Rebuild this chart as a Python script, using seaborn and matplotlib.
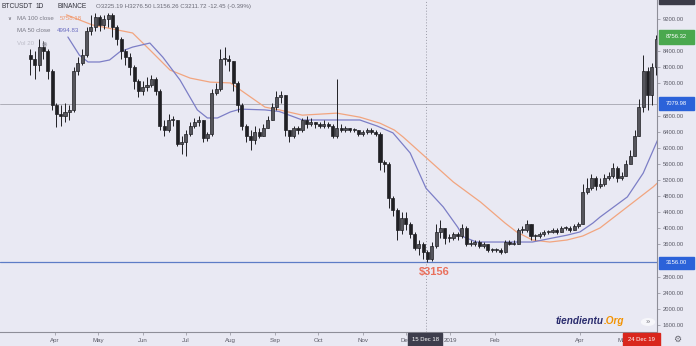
import matplotlib
matplotlib.use('Agg')
import matplotlib.pyplot as plt
import numpy as np
import pandas as pd
import seaborn as sns
from matplotlib.patches import Rectangle, Circle

# ---------------- data ----------------
ORIGIN = pd.Timestamp('2018-04-01')
candle_start = '2018-03-14'
candle_step_days = 3
first_open = 8300

closes = [8200, 8050, 8500, 8400, 7900, 7050, 6850, 6800, 6900, 6950,
          7900, 8100, 8300, 8900, 9000, 9250, 9050, 9200, 9300, 9000,
          8700, 8400, 8250, 8000, 7650, 7400, 7500, 7550, 7700, 7400,
          6550, 6450, 6700, 6700, 6100, 6150, 6350, 6550, 6650, 6700,
          6250, 6350, 7350, 7450, 8200, 8200, 8150, 7600, 7050, 6550,
          6300, 6200, 6400, 6300, 6500, 6700, 7000, 7250, 7300, 6450,
          6300, 6500, 6450, 6700, 6600, 6650, 6600, 6550, 6600, 6550,
          6300, 6500, 6450, 6500, 6450, 6450, 6350, 6400, 6450, 6400,
          6350, 5650, 5600, 4750, 4450, 3950, 4250, 4100, 3850, 3500,
          3600, 3400, 3250, 3550, 3900, 4000, 3750, 3750, 3850, 3800,
          4000, 3600, 3600, 3650, 3550, 3600, 3450, 3450, 3450, 3400,
          3650, 3620, 3620, 3950, 3950, 4100, 3800, 3800, 3850, 3900,
          3900, 3950, 3900, 4000, 4000, 3950, 4050, 4100, 4900, 5000,
          5250, 5050, 5100, 5250, 5300, 5500, 5250, 5300, 5600, 5800,
          6300, 7000, 7900, 7300, 8000, 8700]
highs = [8450, 8400, 8700, 8650, 8450, 7950, 7100, 7050, 7100, 7050,
         8000, 8250, 8450, 9000, 9300, 9350, 9300, 9300, 9350, 9350,
         9050, 8750, 8450, 8350, 8050, 7700, 7650, 7750, 7800, 7750,
         7450, 6700, 6850, 6800, 6700, 6300, 6450, 6650, 6750, 6800,
         6700, 6400, 7450, 7600, 8450, 8500, 8300, 8150, 7650, 7100,
         6600, 6450, 6550, 6500, 6600, 6800, 7100, 7400, 7400, 7300,
         6450, 6550, 6550, 6750, 6800, 6750, 6650, 6650, 6700, 6650,
         6600, 7700, 6600, 6550, 6500, 6500, 6450, 6450, 6500, 6500,
         6450, 6400, 5700, 5650, 4800, 4500, 4400, 4400, 4150, 3900,
         3700, 3650, 3450, 3650, 4100, 4200, 4000, 3850, 3900, 3900,
         4100, 4050, 3700, 3700, 3700, 3650, 3600, 3500, 3500, 3500,
         3700, 3700, 3700, 4000, 4050, 4200, 4100, 3850, 3900, 3950,
         3950, 4000, 4000, 4050, 4050, 4050, 4100, 4150, 5100, 5250,
         5350, 5300, 5250, 5350, 5400, 5620, 5550, 5400, 5700, 5950,
         6450, 7200, 8300, 8000, 8100, 8800]
lows = [7800, 7700, 7900, 8200, 7700, 6950, 6520, 6550, 6650, 6700,
        6900, 7800, 8050, 8250, 8800, 8900, 8900, 8950, 9000, 8750,
        8550, 8200, 8050, 7800, 7450, 7250, 7300, 7400, 7500, 7300,
        6450, 6300, 6400, 6550, 6050, 5850, 5800, 6300, 6500, 6550,
        6150, 6180, 6300, 7300, 7400, 8050, 7900, 7400, 6900, 6450,
        6150, 5950, 6100, 6250, 6300, 6500, 6700, 6950, 7100, 6300,
        6150, 6250, 6350, 6400, 6500, 6550, 6500, 6500, 6500, 6500,
        6250, 6250, 6400, 6400, 6400, 6400, 6300, 6300, 6350, 6350,
        6300, 5450, 5400, 4500, 4300, 3700, 3850, 3950, 3750, 3450,
        3350, 3250, 3160, 3200, 3500, 3750, 3600, 3650, 3700, 3700,
        3750, 3550, 3550, 3550, 3500, 3500, 3400, 3400, 3400, 3370,
        3380, 3580, 3580, 3600, 3880, 3900, 3700, 3700, 3750, 3800,
        3850, 3880, 3850, 3900, 3950, 3900, 3950, 4000, 4100, 4850,
        4950, 4950, 5000, 5050, 5200, 5250, 5150, 5200, 5300, 5650,
        5800, 6300, 6900, 6950, 7050, 7800]

ma50_dates = ['2018-04-10', '2018-04-18', '2018-04-24', '2018-05-02', '2018-05-09',
              '2018-05-16', '2018-05-25', '2018-06-06', '2018-06-15', '2018-06-27',
              '2018-07-09', '2018-07-16', '2018-07-23', '2018-08-01', '2018-08-08',
              '2018-08-25', '2018-09-04', '2018-09-20', '2018-10-07', '2018-10-30',
              '2018-11-11', '2018-11-22', '2018-12-04', '2018-12-15', '2018-12-27',
              '2019-01-06', '2019-01-10', '2019-01-19', '2019-02-07', '2019-02-27',
              '2019-03-13', '2019-03-23', '2019-04-01', '2019-04-10', '2019-04-15',
              '2019-05-04', '2019-05-15', '2019-05-25']
ma50_values = [8750, 8300, 8130, 8130, 8180, 8380, 8500, 8600, 8250, 7680,
               6940, 6740, 6740, 6890, 6960, 6940, 6900, 6690, 6690, 6690,
               6540, 6370, 5870, 4995, 4530, 4030, 3790, 3660, 3660, 3660,
               3760, 3830, 3910, 4130, 4280, 4780, 5370, 6190]

ma100_dates = ['2018-04-09', '2018-04-27', '2018-05-25', '2018-06-06', '2018-06-20',
               '2018-07-04', '2018-07-18', '2018-08-01', '2018-08-15', '2018-08-25',
               '2018-09-04', '2018-09-20', '2018-10-14', '2018-10-30', '2018-11-13',
               '2018-11-23', '2018-11-29', '2018-12-15', '2019-01-03', '2019-01-22',
               '2019-02-08', '2019-02-16', '2019-02-27', '2019-03-11', '2019-03-23',
               '2019-04-03', '2019-04-15', '2019-05-22', '2019-05-25']
ma100_values = [9300, 9050, 8850, 8430, 7930, 7730, 7630, 7610, 7260, 7010,
                6940, 6810, 6860, 6760, 6610, 6440, 6270, 5758, 5150, 4650,
                4130, 3910, 3710, 3660, 3710, 3810, 4010, 5030, 5130]

month_tick_dates = ['2018-04-01', '2018-05-01', '2018-06-01', '2018-07-01', '2018-08-01',
                    '2018-09-01', '2018-10-01', '2018-11-01', '2018-12-01', '2019-01-01',
                    '2019-02-01', '2019-04-01', '2019-05-01']
month_tick_labels = ['Apr', 'May', 'Jun', 'Jul', 'Aug', 'Sep', 'Oct', 'Nov', 'Dec', '2019',
                     'Feb', 'Apr', 'May']
# price ticks shown on the right axis (those hidden behind price boxes are omitted)
price_ticks = [1600, 2000, 2400, 2800, 3600, 4000, 4400, 4800, 5200,
               5600, 6000, 6400, 6800, 7600, 8000, 8400, 9200]

last_close = 8756.32
hline_level = 7079.98
support_level = 3156.00
cross_date = '2018-12-15'
legend_ohlc = 'O3225.19 H3276.50 L3156.26 C3211.72 -12.45 (-0.39%)'
ma100_legend = '5758.18'
ma50_legend = '4994.83'

# ---------------- style ----------------
BG = '#e9e9f3'
sns.set_theme(style='white', rc={'axes.facecolor': BG, 'figure.facecolor': BG})
plt.rcParams['font.family'] = ['Liberation Sans', 'DejaVu Sans']

W, H = 696, 346
fig = plt.figure(figsize=(W / 100, H / 100), dpi=100)


def fx(x):
    return x / W


def fy(y):
    return 1 - y / H


ax = fig.add_axes([0, (H - 332) / H, 657 / W, 332 / H])
ax.set_facecolor(BG)


def days(d):
    idx = pd.DatetimeIndex(pd.to_datetime(np.atleast_1d(d)))
    out = np.asarray((idx - ORIGIN).days, dtype=float)
    return out if np.ndim(d) else float(out[0])


# ---------------- moving averages ----------------
ma50_df = pd.DataFrame({'day': days(ma50_dates), 'value': ma50_values})
ma100_df = pd.DataFrame({'day': days(ma100_dates), 'value': ma100_values})
sns.lineplot(data=ma100_df, x='day', y='value', ax=ax, color='#f2a57f', lw=0.9, zorder=2)
sns.lineplot(data=ma50_df, x='day', y='value', ax=ax, color='#7c7ec6', lw=0.9, zorder=2)

# ---------------- reference lines ----------------
ax.axhline(hline_level, color='#a4a4ae', lw=0.6, zorder=1)
ax.axhline(support_level, color='#5d7cc6', lw=0.9, zorder=1)
cross_x = days(cross_date)
ax.axvline(cross_x, color='#9a9aa6', lw=0.7, ls=(0, (1, 2)), zorder=1)

# ---------------- candles ----------------
dates = pd.date_range(candle_start, periods=len(closes), freq=f'{candle_step_days}D')
xd = np.asarray((dates - ORIGIN).days, dtype=float) + 1.0
c = np.asarray(closes, float)
o = np.asarray([first_open] + closes[:-1], float)
hi = np.asarray(highs, float)
lo = np.asarray(lows, float)
up = c >= o
ax.vlines(xd, lo, hi, color='#202024', lw=0.7, zorder=3)
body_lo = np.minimum(o, c)
body_h = np.maximum(np.abs(c - o), 25)
ax.bar(xd[up], body_h[up], bottom=body_lo[up], width=2.1, color='#55555c',
       edgecolor='#202024', linewidth=0.5, zorder=4)
ax.bar(xd[~up], body_h[~up], bottom=body_lo[~up], width=2.1, color='#202024',
       edgecolor='#202024', linewidth=0.5, zorder=4)

# ---------------- axes ----------------
ax.set_xlim(-38.2, 418.6)
ax.set_ylim(1426, 9669)
ax.set_xlabel('')
ax.set_ylabel('')
ax.grid(False)
for s in ['left', 'top']:
    ax.spines[s].set_visible(False)
ax.spines['right'].set_color('#8e8e98')
ax.spines['bottom'].set_color('#8e8e98')
ax.spines['right'].set_linewidth(0.8)
ax.spines['bottom'].set_linewidth(0.8)
ax.yaxis.tick_right()
ax.set_yticks(price_ticks)
ax.set_yticklabels([f'{v:.2f}' for v in price_ticks])
ax.set_xticks(days(month_tick_dates))
ax.set_xticklabels(month_tick_labels)
ax.tick_params(axis='y', which='both', length=2.5, width=0.5, color='#8e8e98',
               labelsize=4.2, labelcolor='#5a5a66', pad=1.5, right=True, left=False)
ax.tick_params(axis='x', which='both', length=2, width=0.5, color='#8e8e98',
               labelsize=4.4, labelcolor='#5a5a66', pad=2.5, bottom=True)

# ---------------- price labels on the right ----------------
def price_box(text, color, y0, y1):
    fig.patches.append(Rectangle((fx(659), fy(y1)), fx(694) - fx(659), fy(y0) - fy(y1),
                                 transform=fig.transFigure, color=color, zorder=5))
    fig.text(fx(676), fy((y0 + y1) / 2), text, color='white', fontsize=4.2,
             ha='center', va='center', zorder=6)


price_box(f'{last_close:.2f}', '#4aa84e', 30, 44)
price_box(f'{hline_level:.2f}', '#2b62d9', 97, 110)
price_box(f'{support_level:.2f}', '#2b62d9', 257, 269)
fig.patches.append(Rectangle((fx(659), fy(4)), fx(694) - fx(659), fy(-6) - fy(4),
                             transform=fig.transFigure, color='#3c3c48', zorder=5))

# bottom date boxes
fig.patches.append(Rectangle((fx(408), fy(346)), fx(442) - fx(408), fy(333) - fy(346),
                             transform=fig.transFigure, color='#3d3d4c', zorder=5))
fig.text(fx(425), fy(339.5), '15 Dec 18', color='white', fontsize=4.2,
         ha='center', va='center', zorder=6)
fig.patches.append(Rectangle((fx(623), fy(346)), fx(660) - fx(623), fy(333) - fy(346),
                             transform=fig.transFigure, color='#d9261c', zorder=5))
fig.text(fx(641.5), fy(339.5), '24 Dec 19', color='white', fontsize=4.2,
         ha='center', va='center', zorder=6)

# ---------------- annotations ----------------
fig.text(fx(434), fy(272), '$3156', color='#e9705c', fontsize=8, fontweight='bold',
         ha='center', va='center')
fig.text(fx(604), fy(321), 'tiendientu', color='#2b2d6e', fontsize=7.2,
         fontweight='bold', fontstyle='italic', ha='right', va='center')
fig.text(fx(604), fy(321), '.Org', color='#f39200', fontsize=7.2,
         fontweight='bold', fontstyle='italic', ha='left', va='center')
fig.patches.append(Circle((fx(648), fy(322)), 6.5 / W, transform=fig.transFigure,
                          color='#f7f7fb', zorder=5))
fig.text(fx(648), fy(322.5), '»', color='#777780', fontsize=5.5, ha='center',
         va='center', zorder=6)
fig.text(fx(677), fy(339), '⚙', color='#66666f', fontsize=6.5, ha='center',
         va='center', family=['DejaVu Sans'])

# ---------------- legend (top-left) ----------------
fig.text(fx(2), fy(6.5), 'BTCUSDT', color='#33333d', fontsize=4.8, va='center')
fig.text(fx(36), fy(6.5), '1D', color='#33333d', fontsize=4.8, va='center')
fig.text(fx(57), fy(6.5), 'BINANCE', color='#33333d', fontsize=4.8, va='center')
fig.text(fx(96), fy(6.5), legend_ohlc, color='#6a6a76', fontsize=4.4, va='center')
fig.text(fx(7), fy(18.5), '∨', color='#55555f', fontsize=3.8, va='center',
         family=['DejaVu Sans'])
fig.text(fx(17), fy(18.5), 'MA 100 close', color='#7a7a86', fontsize=4.4, va='center')
fig.text(fx(60), fy(18.5), ma100_legend, color='#f0956a', fontsize=4.4, va='center')
fig.text(fx(17), fy(31), 'MA 50 close', color='#7a7a86', fontsize=4.4, va='center')
fig.text(fx(57), fy(31), ma50_legend, color='#6a6cc0', fontsize=4.4, va='center')
fig.text(fx(17), fy(43.5), 'Vol 20', color='#bdbdc8', fontsize=4.4, va='center')
fig.text(fx(42), fy(43.5), '◉', color='#9a9aa6', fontsize=4.4, va='center',
         family=['DejaVu Sans'])

fig.savefig('out.png', dpi=100, facecolor=BG)
